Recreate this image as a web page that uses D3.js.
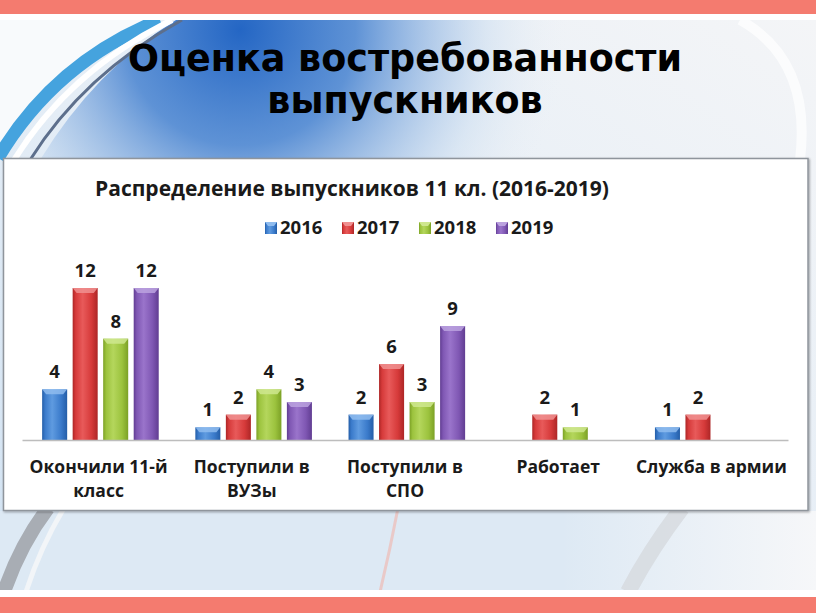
<!DOCTYPE html>
<html><head><meta charset="utf-8">
<script src="https://cdn.jsdelivr.net/npm/d3@7/dist/d3.min.js"></script>
<style>html,body{margin:0;padding:0;background:#fff;overflow:hidden}</style>
</head><body>
<svg id="c" width="816" height="613"></svg>
<script>
// ---- data ----
const categories = ["Окончили 11-й класс", "Поступили в ВУЗы", "Поступили в СПО", "Работает", "Служба в армии"];
const categoryLines = [["Окончили 11-й", "класс"], ["Поступили в", "ВУЗы"], ["Поступили в", "СПО"], ["Работает"], ["Служба в армии"]];
const years = ["2016", "2017", "2018", "2019"];
const values2016 = [4, 1, 2, null, 1];
const values2017 = [12, 2, 6, 2, 2];
const values2018 = [8, 4, 3, 1, null];
const values2019 = [12, 3, 9, null, null];
const seriesValues = [values2016, values2017, values2018, values2019];
const pageTitle = ["Оценка востребованности", "выпускников"];
const chartTitle = "Распределение выпускников 11 кл. (2016-2019)";

const colors = [
  {base: "#3b7bcb", light: "#5f9be0", dark: "#245ea8", cap: "#8fbcef"},
  {base: "#d63a3a", light: "#e85a5a", dark: "#ad2626", cap: "#f09090"},
  {base: "#9cc33e", light: "#b4d65c", dark: "#7ca126", cap: "#cfe78f"},
  {base: "#7f57b3", light: "#9a74cb", dark: "#613d92", cap: "#bba2df"}
];

const svg = d3.select("#c");
const defs = svg.append("defs");

// ---- background ----
svg.append("rect").attr("x",0).attr("y",0).attr("width",816).attr("height",613).attr("fill","#ffffff");
const bgClip = defs.append("clipPath").attr("id","bgclip");
bgClip.append("rect").attr("x",0).attr("y",20).attr("width",816).attr("height",570);

const gBase = defs.append("linearGradient").attr("id","bgbase").attr("x1",0).attr("y1",1).attr("x2",1).attr("y2",0);
gBase.append("stop").attr("offset","0%").attr("stop-color","#d2e3f3");
gBase.append("stop").attr("offset","45%").attr("stop-color","#e4edf6");
gBase.append("stop").attr("offset","100%").attr("stop-color","#f4f5f7");

const gBlue = defs.append("radialGradient").attr("id","bgblue").attr("gradientUnits","userSpaceOnUse")
  .attr("cx",240).attr("cy",30).attr("r",330);
gBlue.append("stop").attr("offset","0%").attr("stop-color","#2466c4").attr("stop-opacity",1);
gBlue.append("stop").attr("offset","35%").attr("stop-color","#4f88d2").attr("stop-opacity",0.9);
gBlue.append("stop").attr("offset","75%").attr("stop-color","#c9dcf0").attr("stop-opacity",0.5);
gBlue.append("stop").attr("offset","100%").attr("stop-color","#eef2f6").attr("stop-opacity",0);

const bg = svg.append("g").attr("clip-path","url(#bgclip)");
bg.append("rect").attr("x",0).attr("y",20).attr("width",816).attr("height",570).attr("fill","url(#bgbase)");
bg.append("path").attr("d","M0,20 L150,20 Q55,70 0,150 Z").attr("fill","#f8fafc");
bg.append("path").attr("d","M176,20 L816,20 L816,160 L40,160 Q95,70 176,20 Z").attr("fill","url(#bgblue)");
bg.append("path").attr("d","M-2,158 Q55,62 160,20").attr("fill","none").attr("stroke","#45a3de").attr("stroke-width",13);
bg.append("path").attr("d","M14,160 Q70,70 172,20").attr("fill","none").attr("stroke","#ffffff").attr("stroke-width",6);
bg.append("path").attr("d","M30,160 Q84,74 182,20").attr("fill","none").attr("stroke","#5d6f8c").attr("stroke-width",3);
bg.append("path").attr("d","M740,20 Q812,60 800,160").attr("fill","none").attr("stroke","#ffffff").attr("stroke-width",10).attr("opacity",0.7);
bg.append("path").attr("d","M0,511 L816,511 L816,590 L0,590 Z").attr("fill","#dde9f4");
const gFade = defs.append("linearGradient").attr("id","fadeR").attr("x1",0).attr("y1",0).attr("x2",1).attr("y2",0);
gFade.append("stop").attr("offset","0%").attr("stop-color","#f6f7f9").attr("stop-opacity",0);
gFade.append("stop").attr("offset","100%").attr("stop-color","#f6f7f9").attr("stop-opacity",1);
bg.append("rect").attr("x",560).attr("y",511).attr("width",256).attr("height",80).attr("fill","url(#fadeR)");
bg.append("path").attr("d","M4,592 Q20,545 48,508").attr("fill","none").attr("stroke","#a8adb4").attr("stroke-width",14);
bg.append("path").attr("d","M26,592 Q40,548 64,508").attr("fill","none").attr("stroke","#f2f5f8").attr("stroke-width",5);
bg.append("path").attr("d","M628,592 Q650,550 682,508").attr("fill","none").attr("stroke","#d6dadf").attr("stroke-width",16).attr("opacity",0.8);
bg.append("path").attr("d","M380,592 Q390,550 398,508").attr("fill","none").attr("stroke","#f2b4aa").attr("stroke-width",3).attr("opacity",0.6);

// top & bottom bands
svg.append("rect").attr("x",0).attr("y",0).attr("width",816).attr("height",14).attr("fill","#f47b6f");
svg.append("rect").attr("x",0).attr("y",597).attr("width",816).attr("height",16).attr("fill","#f47b6f");

// ---- page title ----
svg.append("g").selectAll("text").data(pageTitle).join("text")
  .attr("x",405).attr("y",(d,i)=>71+i*42)
  .attr("text-anchor","middle")
  .attr("font-family","'DejaVu Sans', Verdana, sans-serif")
  .attr("font-weight","bold").attr("font-size",36.5).attr("fill","#000")
  .text(d=>d);

// ---- chart box ----
const sh = defs.append("filter").attr("id","shadow").attr("x","-5%").attr("y","-5%").attr("width","110%").attr("height","110%");
sh.append("feDropShadow").attr("dx",1).attr("dy",1).attr("stdDeviation",1.2).attr("flood-color","#000").attr("flood-opacity",0.35);
svg.append("rect").attr("x",3.5).attr("y",158.5).attr("width",804.5).attr("height",352)
  .attr("fill","#ffffff").attr("stroke","#8f959c").attr("stroke-width",1.5).attr("filter","url(#shadow)");

svg.append("text").attr("x",352).attr("y",196).attr("text-anchor","middle")
  .attr("font-family","'Open Sans', sans-serif").attr("font-weight","bold").attr("font-size",21)
  .attr("fill","#1a1a1a").text(chartTitle);

colors.forEach((c,i)=>{
  const g = defs.append("linearGradient").attr("id","bar"+i).attr("x1",0).attr("y1",0).attr("x2",1).attr("y2",0);
  g.append("stop").attr("offset","0%").attr("stop-color",c.dark);
  g.append("stop").attr("offset","12%").attr("stop-color",c.base);
  g.append("stop").attr("offset","40%").attr("stop-color",c.light);
  g.append("stop").attr("offset","75%").attr("stop-color",c.base);
  g.append("stop").attr("offset","100%").attr("stop-color",c.dark);
});

// ---- scales ----
const x0 = d3.scaleBand().domain(categories).range([22, 788]).paddingInner(0).paddingOuter(0);
const x1 = d3.scaleBand().domain(years).range([0, x0.bandwidth()]).paddingInner(0.18).paddingOuter(0.6).align(0.55);
const y = d3.scaleLinear().domain([0, 12]).range([440, 288]);

// ---- legend ----
const legendX = d3.scalePoint().domain(years).range([265, 496]);
const leg = svg.append("g").selectAll("g").data(years).join("g")
  .attr("transform", d=>`translate(${legendX(d)},222)`);
leg.append("rect").attr("width",12).attr("height",12).attr("fill",(d,i)=>`url(#bar${i})`);
leg.append("path").attr("d","M0,0 L12,0 L9,4 L3,4 Z").attr("fill",(d,i)=>colors[i].cap);
leg.append("text").attr("x",15).attr("y",12)
  .attr("font-family","'Open Sans', sans-serif").attr("font-weight","bold").attr("font-size",18.5)
  .attr("fill","#1a1a1a").text(d=>d);

// ---- bars ----
const barData = [];
categories.forEach((cat,ci)=>{
  years.forEach((yr,si)=>{
    const v = seriesValues[si][ci];
    if (v !== null && v !== undefined) barData.push({cat, yr, si, v});
  });
});
const bars = svg.append("g").selectAll("g").data(barData).join("g")
  .attr("transform", d=>`translate(${x0(d.cat)+x1(d.yr)},0)`);
const bw = x1.bandwidth();
bars.append("rect").attr("x",0).attr("y",d=>y(d.v)).attr("width",bw).attr("height",d=>y(0)-y(d.v))
  .attr("fill",d=>`url(#bar${d.si})`);
bars.append("path").attr("d",d=>`M0,${y(d.v)} L${bw},${y(d.v)} L${bw-4},${y(d.v)+5} L4,${y(d.v)+5} Z`)
  .attr("fill",d=>colors[d.si].cap).attr("opacity",0.85);
bars.append("text").attr("x",bw/2).attr("y",d=>y(d.v)-11).attr("text-anchor","middle")
  .attr("font-family","'Open Sans', sans-serif").attr("font-weight","bold").attr("font-size",18.5)
  .attr("fill","#1a1a1a").text(d=>d.v);

// ---- axis ----
const axis = svg.append("g").attr("transform","translate(0,440)")
  .call(d3.axisBottom(x0).tickSize(0).tickFormat(""));
axis.select(".domain").attr("stroke","#bdbdbd").attr("stroke-width",1.5);

const catLabels = svg.append("g").selectAll("text").data(categories).join("text")
  .attr("text-anchor","middle")
  .attr("font-family","'Open Sans', sans-serif").attr("font-weight","bold").attr("font-size",17.5)
  .attr("fill","#1a1a1a");
catLabels.each(function(d,i){
  const t = d3.select(this);
  categoryLines[i].forEach((line,li)=>{
    t.append("tspan").attr("x", x0(d)+x0.bandwidth()/2).attr("y", 473+li*24).text(line);
  });
});
</script>
</body></html>
